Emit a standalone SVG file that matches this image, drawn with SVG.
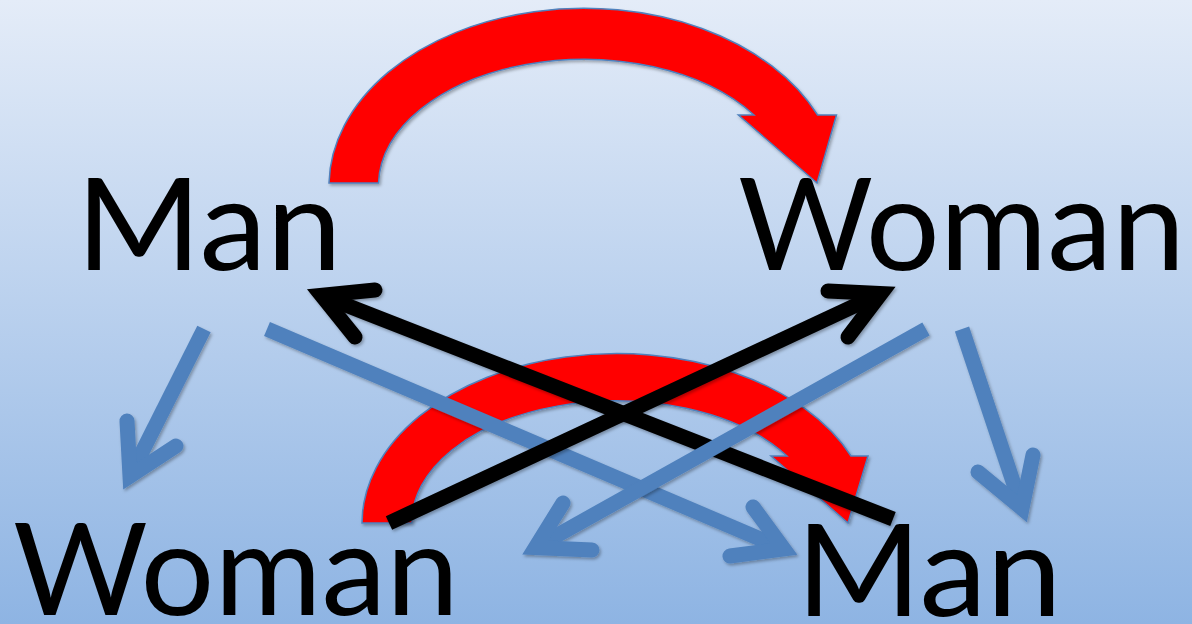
<svg xmlns="http://www.w3.org/2000/svg" width="1192" height="624" viewBox="0 0 1192 624">
  <defs>
    <linearGradient id="bg" x1="0" y1="0" x2="0" y2="1">
      <stop offset="0" stop-color="#e4ecf8"/>
      <stop offset="1" stop-color="#8eb4e3"/>
    </linearGradient>
    <filter id="sh" x="-20%" y="-20%" width="140%" height="140%">
      <feDropShadow dx="1.5" dy="2" stdDeviation="1.8" flood-color="#000" flood-opacity="0.3"/>
    </filter>
  </defs>
  <style>
    .lbl { font-family: Lato, "Open Sans", "Liberation Sans", sans-serif; font-size: 128px; fill: #000; }
    .red { fill: #ff0000; stroke: #4f81bd; stroke-width: 1.5; filter: url(#sh); }
    .blk { fill: none; stroke: #000; stroke-width: 15; }
    .blu { fill: none; stroke: #4f81bd; stroke-width: 15; }
    .head { stroke-linecap: round; stroke-linejoin: miter; stroke-miterlimit: 10; }
  </style>
  <rect x="0" y="0" width="1192" height="624" fill="url(#bg)"/>

  <g id="connectors">
    <path id="red-top" class="red" d="M329,183 A255,178 0 0 1 817.6,115 L836.5,115 L817,183 L738.4,115 L754,115 A205.5,127 0 0 0 378.5,183 Z"/>
    <path id="red-bottom" class="red" d="M362,523 A255,170 0 0 1 851,456 L868,456 L848,523 L771,456 L787,456 A204,121 0 0 0 412,523 Z"/>
    <g id="black-2" filter="url(#sh)">
      <path class="blk" d="M893,519 L321.5,295.4"/>
      <path class="blk head" d="M375,290 L321.5,295.4 L355,337"/>
    </g>
    <g id="blue-1" filter="url(#sh)">
      <path class="blu" d="M204,329 L130,476"/>
      <path class="blu head" d="M127,421 L130,476 L176,446"/>
    </g>
    <g id="blue-2" filter="url(#sh)">
      <path class="blu" d="M267,329 L783.8,549"/>
      <path class="blu head" d="M753,507 L783.8,549 L730,556"/>
    </g>
    <g id="blue-3" filter="url(#sh)">
      <path class="blu" d="M926,329 L535.4,547.5"/>
      <path class="blu head" d="M563,503 L535.4,547.5 L592,550"/>
    </g>
    <g id="blue-4" filter="url(#sh)">
      <path class="blu" d="M962,329 L1022,508.4"/>
      <path class="blu head" d="M978,472 L1022,508.4 L1033,455"/>
    </g>
    <g id="black-1" filter="url(#sh)">
      <path class="blk" d="M389,523 L881,293.5"/>
      <path class="blk head" d="M828,291 L881,293.5 L848,337"/>
    </g>
  </g>

  <g id="man-top"><text class="lbl" x="76" y="270" textLength="266" lengthAdjust="spacingAndGlyphs">Man</text></g>
  <g id="woman-top"><text class="lbl" x="738" y="270" textLength="447" lengthAdjust="spacingAndGlyphs">Woman</text></g>
  <g id="woman-bottom"><text class="lbl" x="13" y="615" textLength="446" lengthAdjust="spacingAndGlyphs">Woman</text></g>
  <g id="man-bottom"><text class="lbl" x="796" y="616" textLength="266" lengthAdjust="spacingAndGlyphs">Man</text></g>
</svg>
